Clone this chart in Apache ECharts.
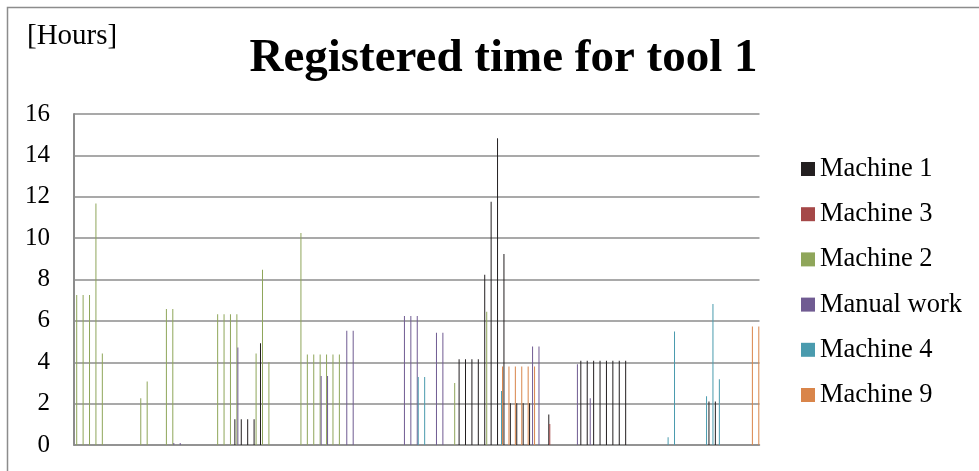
<!DOCTYPE html>
<html>
<head>
<meta charset="utf-8">
<script src="https://cdn.jsdelivr.net/npm/echarts@6/dist/echarts.min.js"></script>
<style>
  html, body { margin: 0; padding: 0; background: #fff; }
  #chart { width: 979px; height: 471px; }
</style>
</head>
<body>
<div id="chart"></div>
<script>
// Registered hours per day for tool 1, split by machine / manual work.
// Each series lists [day index, hours]; days without an entry had no registered time.
const dayCount = 107;
const days = Array.from({ length: dayCount }, (_, i) => 'Day ' + (i + 1));

const seriesNames = ['Machine 1', 'Machine 3', 'Machine 2', 'Manual work', 'Machine 4', 'Machine 9'];
const seriesColors = ['#231f20', '#a54848', '#8fa65a', '#705b92', '#4a9bae', '#d9854a'];

const machine1 = [
  [25, 1.24], [26, 1.24], [27, 1.24], [28, 1.24], [29, 4.92],
  [60, 4.15], [61, 4.15], [62, 4.15], [63, 4.15],
  [64, 8.23], [65, 11.76], [66, 14.83], [67, 9.23],
  [68, 2.02], [69, 2.02], [70, 2.02], [71, 2.02],
  [74, 1.48],
  [79, 4.07], [80, 4.07], [81, 4.07], [82, 4.07], [83, 4.07], [84, 4.07], [85, 4.07], [86, 4.07],
  [99, 2.1], [100, 2.1]
];
const machine3 = [
  [74, 1.02]
];
const machine2 = [
  [0, 7.25], [1, 7.25], [2, 7.25], [3, 11.67], [4, 4.42],
  [10, 2.26], [11, 3.07],
  [14, 6.57], [15, 6.57],
  [22, 6.32], [23, 6.32], [24, 6.32], [25, 6.32],
  [28, 4.42], [29, 8.47], [30, 4.0],
  [35, 10.25], [36, 4.37], [37, 4.37], [38, 4.37], [39, 4.37], [40, 4.37], [41, 4.37],
  [59, 3.0], [64, 6.44]
];
const manualWork = [
  [15, 0.1], [16, 0.1],
  [25, 4.71],
  [38, 3.34], [39, 3.34],
  [42, 5.52], [43, 5.52],
  [51, 6.24], [52, 6.24], [53, 6.24],
  [56, 5.42], [57, 5.42],
  [71, 4.76], [72, 4.76],
  [78, 3.9], [80, 2.26]
];
const machine4 = [
  [53, 3.29], [54, 3.29],
  [66, 2.61],
  [92, 0.37], [93, 5.49],
  [98, 2.36], [99, 6.82], [100, 3.18]
];
const machine9 = [
  [66, 3.79], [67, 3.79], [68, 3.79], [69, 3.79], [70, 3.79], [71, 3.79],
  [105, 5.73], [106, 5.73]
];

const yTicks = { min: 0, max: 16, step: 2 };

// Turn the [day, hours] lists into one value per day.
function perDay(entries) {
  const values = new Array(dayCount).fill(0);
  entries.forEach(([day, hours]) => { values[day] = hours; });
  return values;
}

const seriesData = [machine1, machine3, machine2, manualWork, machine4, machine9].map(perDay);

const serif = "'Liberation Serif', 'Times New Roman', serif";

const chart = echarts.init(document.getElementById('chart'), null, { renderer: 'canvas' });

chart.setOption({
  animation: false,
  backgroundColor: '#ffffff',
  textStyle: { fontFamily: serif, color: '#000' },
  title: {
    text: 'Registered time for tool 1',
    left: 498.5,
    top: 30,
    textAlign: 'center',
    textStyle: { fontFamily: serif, fontWeight: 'bold', fontSize: 47, color: '#000' }
  },
  graphic: [
    {
      type: 'rect',
      shape: { x: 7.5, y: 7.5, width: 1000, height: 500 },
      style: { fill: 'none', stroke: '#8c8c8c', lineWidth: 1.5 },
      silent: true,
      z: 0
    },
    {
      type: 'text',
      left: 27,
      top: 22,
      style: { text: '[Hours]', font: '29px ' + serif, fill: '#000' }
    }
  ],
  legend: {
    orient: 'vertical',
    left: 796,
    top: 149,
    icon: 'rect',
    itemWidth: 14,
    itemHeight: 14,
    itemGap: 15.2,
    textStyle: { fontFamily: serif, fontSize: 26.5, color: '#000', lineHeight: 30 },
    data: seriesNames
  },
  grid: { left: 74, right: 219.5, top: 114, bottom: 26, containLabel: false },
  xAxis: {
    type: 'category',
    data: days,
    axisLine: { show: true, lineStyle: { color: '#8c8c8c', width: 1.5 } },
    axisTick: { show: false },
    axisLabel: { show: false },
    splitLine: { show: false }
  },
  yAxis: {
    type: 'value',
    min: yTicks.min,
    max: yTicks.max,
    interval: yTicks.step,
    axisLine: { show: true, lineStyle: { color: '#8c8c8c', width: 2 } },
    axisTick: { show: false },
    axisLabel: { fontFamily: serif, fontSize: 25, color: '#000', margin: 24 },
    splitLine: { show: true, lineStyle: { color: '#8c8c8c', width: 1.5 } }
  },
  series: seriesNames.map((name, i) => ({
    name,
    type: 'bar',
    data: seriesData[i],
    barGap: '0%',
    barCategoryGap: '7.7%',
    itemStyle: { color: seriesColors[i] },
    emphasis: { disabled: true }
  }))
});
</script>
</body>
</html>
